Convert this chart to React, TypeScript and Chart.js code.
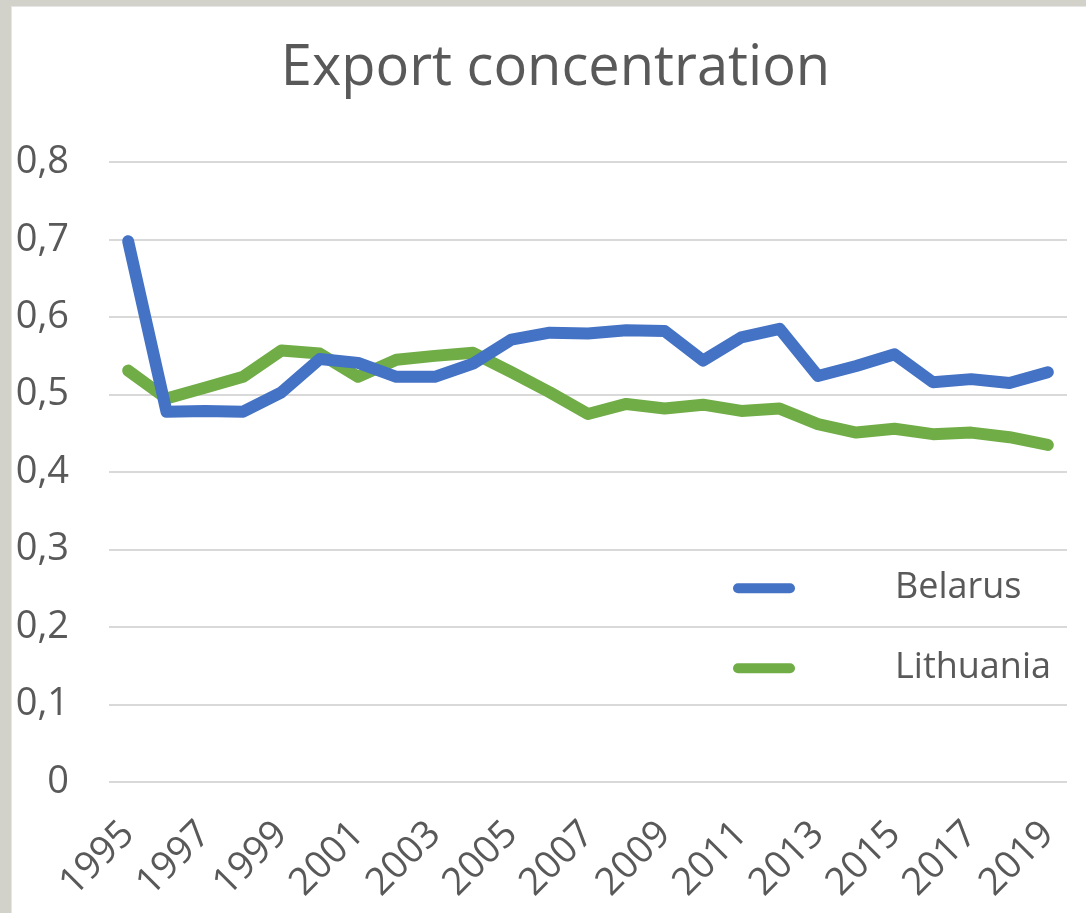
import React, { useEffect, useRef } from "react";
import { Chart, registerables } from "chart.js";

Chart.register(...registerables);

const years: string[] = [
  "1995", "1996", "1997", "1998", "1999", "2000", "2001", "2002", "2003", "2004",
  "2005", "2006", "2007", "2008", "2009", "2010", "2011", "2012", "2013", "2014",
  "2015", "2016", "2017", "2018", "2019",
];

const belarus: number[] = [
  0.698, 0.478, 0.479, 0.478, 0.503, 0.546, 0.541, 0.523, 0.523, 0.540,
  0.571, 0.580, 0.579, 0.583, 0.582, 0.544, 0.574, 0.585, 0.524, 0.537,
  0.552, 0.516, 0.520, 0.515, 0.529,
];

const lithuania: number[] = [
  0.531, 0.495, 0.509, 0.523, 0.557, 0.553, 0.523, 0.545, 0.550, 0.554,
  0.529, 0.503, 0.475, 0.488, 0.482, 0.487, 0.479, 0.482, 0.462, 0.451,
  0.456, 0.449, 0.451, 0.445, 0.435,
];

const yTickLabels: string[] = ["0", "0,1", "0,2", "0,3", "0,4", "0,5", "0,6", "0,7", "0,8"];

const TEXT = "#595959";
const FONT = "'Open Sans', sans-serif";

const legendPlugin = {
  id: "insideLegend",
  afterLayout(chart: any) {
    if (chart.titleBlock) {
      chart.titleBlock.left += 32;
    }
  },
  afterDraw(chart: any) {
    const ctx = chart.ctx;
    const area = chart.chartArea;
    const x0 = area.right - 334;
    const x1 = area.right - 272;
    const tx = area.right - 172;
    const ys = [area.top + 426, area.top + 506];
    ctx.save();
    chart.data.datasets.forEach((ds: any, i: number) => {
      const y = ys[i];
      ctx.strokeStyle = ds.borderColor;
      ctx.lineWidth = 10;
      ctx.lineCap = "round";
      ctx.beginPath();
      ctx.moveTo(x0 + 5, y);
      ctx.lineTo(x1 - 5, y);
      ctx.stroke();
      ctx.fillStyle = TEXT;
      ctx.font = `36px ${FONT}`;
      ctx.textBaseline = "middle";
      ctx.textAlign = "left";
      ctx.fillText(ds.label, tx, y);
    });
    ctx.restore();
  },
};

export default function App() {
  const ref = useRef<HTMLCanvasElement | null>(null);

  useEffect(() => {
    document.body.style.margin = "0";
    const canvas = ref.current;
    if (!canvas) return;
    const chart = new Chart(canvas, {
      type: "line",
      data: {
        labels: years,
        datasets: [
          {
            label: "Belarus",
            data: belarus,
            borderColor: "#4472C4",
            backgroundColor: "#4472C4",
            borderWidth: 12,
            pointRadius: 0,
            tension: 0,
            borderCapStyle: "round",
            borderJoinStyle: "round",
          },
          {
            label: "Lithuania",
            data: lithuania,
            borderColor: "#70AD47",
            backgroundColor: "#70AD47",
            borderWidth: 12,
            pointRadius: 0,
            tension: 0,
            borderCapStyle: "round",
            borderJoinStyle: "round",
          },
        ],
      },
      options: {
        responsive: false,
        animation: false,
        layout: { padding: { left: 0, right: 19, top: 0, bottom: 0 } },
        plugins: {
          legend: { display: false },
          tooltip: { enabled: false },
          title: {
            display: true,
            text: "Export concentration",
            color: TEXT,
            font: { family: FONT, size: 56, weight: "normal" },
            padding: { top: 28, bottom: 60 },
          },
        },
        scales: {
          x: {
            offset: true,
            grid: { display: false, drawTicks: false },
            border: { display: false },
            ticks: {
              autoSkip: false,
              maxRotation: 45,
              minRotation: 45,
              color: TEXT,
              font: { family: FONT, size: 38 },
              padding: 30,
              callback: (_v: any, i: number) => (i % 2 === 0 ? years[i] : ""),
            },
            afterFit: (scale: any) => {
              scale.height = 131;
              scale.paddingLeft = 0;
              scale.paddingRight = 0;
            },
          },
          y: {
            min: 0,
            max: 0.8,
            grid: { color: "#d9d9d9", lineWidth: 2, drawTicks: false },
            border: { display: false },
            ticks: {
              stepSize: 0.1,
              color: TEXT,
              font: { family: FONT, size: 38 },
              padding: 40,
              callback: (_v: any, i: number) => yTickLabels[i],
            },
            afterFit: (scale: any) => {
              scale.width = 97;
            },
          },
        },
      },
      plugins: [legendPlugin],
    });
    return () => chart.destroy();
  }, []);

  return (
    <div style={{ position: "fixed", inset: 0, background: "#d2d2ca" }}>
      <div
        style={{
          position: "absolute",
          left: 11,
          top: 6,
          right: 0,
          bottom: 0,
          background: "#ffffff",
          borderLeft: "1px solid #e6e6e6",
          borderTop: "1px solid #e6e6e6",
        }}
      >
        <canvas ref={ref} width={1074} height={906} style={{ display: "block" }} />
      </div>
    </div>
  );
}
